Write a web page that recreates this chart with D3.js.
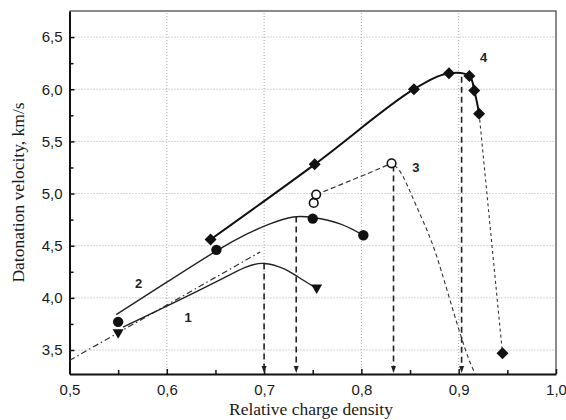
<!DOCTYPE html>
<html>
<head>
<meta charset="utf-8">
<script src="https://cdn.jsdelivr.net/npm/d3@7"></script>
<style>
  body { margin: 0; background: #fff; }
  svg { display: block; }
  .tick text { font-family: "Liberation Sans", Arial, sans-serif; font-size: 15px; fill: #1a1a1a; }
  .title { font-family: "Liberation Serif", "Times New Roman", serif; font-size: 17.5px; fill: #1a1a1a; }
  .lbl { font-family: "Liberation Sans", Arial, sans-serif; font-size: 13px; font-weight: bold; fill: #222; }
</style>
</head>
<body>
<svg id="chart" width="566" height="420"></svg>
<script>
var xTicks, yTicks, xMinor, yMinor, s1Points, s1Curve, s1Trend, s2Points, s2Curve,
    s3Points, s3Rise, s3Fall, s4Points, s4Tail, drops, curveLabels;

xTicks = [0.5, 0.6, 0.7, 0.8, 0.9, 1.0];
yTicks = [3.5, 4.0, 4.5, 5.0, 5.5, 6.0, 6.5];
xMinor = [0.55, 0.65, 0.75, 0.85, 0.95];
yMinor = [3.75, 4.25, 4.75, 5.25, 5.75, 6.25];

// curve 1 (triangles)
s1Points = [[0.55, 3.66], [0.754, 4.09]];
s1Curve = [[0.555, 3.72], [0.60, 3.92], [0.65, 4.15], [0.68, 4.29], [0.70, 4.33], [0.72, 4.28], [0.735, 4.20], [0.754, 4.09]];
s1Trend = [[0.50, 3.40], [0.696, 4.44]];

// curve 2 (filled circles)
s2Points = [[0.55, 3.77], [0.651, 4.46], [0.75, 4.76], [0.802, 4.60]];
s2Curve = [[0.548, 3.84], [0.60, 4.15], [0.651, 4.45], [0.682, 4.61], [0.706, 4.71], [0.73, 4.775], [0.75, 4.77], [0.778, 4.71], [0.802, 4.60]];

// curve 3 (open circles)
s3Points = [[0.751, 4.91], [0.7535, 4.99], [0.831, 5.29]];
s3Rise = [[0.7535, 4.99], [0.806, 5.19], [0.831, 5.29]];
s3Fall = [[0.834, 5.27], [0.843, 5.16], [0.857, 4.87], [0.874, 4.49], [0.891, 3.98], [0.907, 3.5], [0.917, 3.27]];

// curve 4 (diamonds)
s4Points = [[0.645, 4.56], [0.752, 5.28], [0.854, 6.0], [0.89, 6.153], [0.911, 6.126], [0.916, 5.987], [0.921, 5.766], [0.945, 3.468]];
s4Tail = [[0.921, 5.766], [0.945, 3.468]];

drops = [[0.70, 4.33], [0.733, 4.78], [0.833, 5.27], [0.903, 6.12]];
curveLabels = [["1", 0.622, 3.80], ["2", 0.571, 4.13], ["3", 0.856, 5.24], ["4", 0.9255, 6.29]];

var margin = {left: 69.5, right: 10, top: 11, bottom: 46};
var W = 566, H = 420;
var svg = d3.select('#chart');
var x = d3.scaleLinear().domain([0.5, 1.0]).range([margin.left, W - margin.right]);
var y = d3.scaleLinear().domain([3.27, 6.75]).range([H - margin.bottom, margin.top]);
var fmt = function(d){ return d3.format('.1f')(d).replace('.', ','); };

// grid
var grid = svg.append('g').attr('class', 'grid');
grid.selectAll('line.gx').data(xTicks.slice(1, -1)).enter().append('line')
  .attr('x1', function(d){ return x(d); }).attr('x2', function(d){ return x(d); })
  .attr('y1', y.range()[0]).attr('y2', y.range()[1])
  .attr('stroke', '#aaa').attr('stroke-width', 1).attr('stroke-dasharray', '1,2');
grid.selectAll('line.gy').data(yTicks).enter().append('line')
  .attr('y1', function(d){ return y(d); }).attr('y2', function(d){ return y(d); })
  .attr('x1', x.range()[0]).attr('x2', x.range()[1])
  .attr('stroke', '#aaa').attr('stroke-width', 1).attr('stroke-dasharray', '1,2');

// frame top / right
svg.append('path')
  .attr('d', 'M' + x.range()[0] + ',' + y.range()[1] + 'H' + x.range()[1] + 'V' + y.range()[0])
  .attr('fill', 'none').attr('stroke', '#666').attr('stroke-width', 1.5);

// axes
svg.append('g').attr('transform', 'translate(0,' + y.range()[0] + ')')
  .call(d3.axisBottom(x).tickValues(xTicks).tickFormat(fmt).tickSizeInner(-5).tickSizeOuter(0).tickPadding(10));
svg.append('g').attr('transform', 'translate(0,' + y.range()[0] + ')')
  .call(d3.axisBottom(x).tickValues(xMinor).tickFormat('').tickSizeInner(-4).tickSizeOuter(0))
  .select('.domain').remove();
svg.append('g').attr('transform', 'translate(' + x.range()[0] + ',0)')
  .call(d3.axisLeft(y).tickValues(yTicks).tickFormat(fmt).tickSizeInner(-5).tickSizeOuter(0).tickPadding(7));
svg.append('g').attr('transform', 'translate(' + x.range()[0] + ',0)')
  .call(d3.axisLeft(y).tickValues(yMinor).tickFormat('').tickSizeInner(-4).tickSizeOuter(0))
  .select('.domain').remove();
svg.selectAll('.domain').attr('stroke', '#111').attr('stroke-width', 2);
svg.selectAll('.tick line').attr('stroke', '#111').attr('stroke-width', 1.5);

svg.append('text').attr('class', 'title').attr('text-anchor', 'middle')
  .attr('x', 311).attr('y', 415).text('Relative charge density');
svg.append('text').attr('class', 'title').attr('text-anchor', 'middle')
  .attr('transform', 'translate(24,' + (y.range()[0] + y.range()[1]) / 2 + ') rotate(-90)')
  .text('Datonation velocity, km/s');

var plot = svg.append('g');
var px = function(d){ return x(d[0]); }, py = function(d){ return y(d[1]); };
var line = d3.line().x(px).y(py);
var spline = d3.line().curve(d3.curveNatural).x(px).y(py);
var smooth = d3.line().curve(d3.curveCatmullRom.alpha(0.5)).x(px).y(py);

// vertical drop arrows
plot.selectAll('line.drop').data(drops).enter().append('line')
  .attr('x1', px).attr('x2', px)
  .attr('y1', py).attr('y2', y.range()[0] - 6)
  .attr('stroke', '#222').attr('stroke-width', 1.6).attr('stroke-dasharray', '6,4');
plot.selectAll('path.head').data(drops).enter().append('path')
  .attr('d', function(d){
    var hx = x(d[0]), hy = y.range()[0];
    return 'M' + (hx - 2.5) + ',' + (hy - 8) + 'L' + (hx + 2.5) + ',' + (hy - 8) + 'L' + hx + ',' + (hy - 1) + 'Z';
  }).attr('fill', '#222');

// lines
plot.append('path').attr('d', line(s1Trend)).attr('fill', 'none').attr('stroke', '#333')
  .attr('stroke-width', 1.2).attr('stroke-dasharray', '6,3,1.5,3');
plot.append('path').attr('d', spline(s1Curve)).attr('fill', 'none').attr('stroke', '#222').attr('stroke-width', 1.4);
plot.append('path').attr('d', spline(s2Curve)).attr('fill', 'none').attr('stroke', '#222').attr('stroke-width', 1.4);
plot.append('path').attr('d', smooth(s3Rise)).attr('fill', 'none').attr('stroke', '#333')
  .attr('stroke-width', 1.2).attr('stroke-dasharray', '5,3');
plot.append('path').attr('d', spline(s3Fall)).attr('fill', 'none').attr('stroke', '#333')
  .attr('stroke-width', 1.1).attr('stroke-dasharray', '4,3');
plot.append('path').attr('d', smooth(s4Points.slice(0, 7))).attr('fill', 'none').attr('stroke', '#111').attr('stroke-width', 2);
plot.append('path').attr('d', line(s4Tail)).attr('fill', 'none').attr('stroke', '#333')
  .attr('stroke-width', 1.1).attr('stroke-dasharray', '3,3');

// markers
plot.selectAll('path.tri').data(s1Points).enter().append('path')
  .attr('transform', function(d){ return 'translate(' + x(d[0]) + ',' + y(d[1]) + ')'; })
  .attr('d', 'M-5.5,-4L5.5,-4L0,5.5Z').attr('fill', '#111');
plot.selectAll('circle.dot').data(s2Points).enter().append('circle')
  .attr('cx', px).attr('cy', py)
  .attr('r', 5.2).attr('fill', '#111');
plot.selectAll('circle.ring').data(s3Points).enter().append('circle')
  .attr('cx', px).attr('cy', py)
  .attr('r', 4.3).attr('fill', '#fff').attr('stroke', '#111').attr('stroke-width', 1.6);
plot.selectAll('path.dia').data(s4Points).enter().append('path')
  .attr('transform', function(d){ return 'translate(' + x(d[0]) + ',' + y(d[1]) + ')'; })
  .attr('d', 'M0,-6L6,0L0,6L-6,0Z').attr('fill', '#111');

plot.selectAll('text.lbl').data(curveLabels).enter().append('text')
  .attr('class', 'lbl').attr('text-anchor', 'middle').attr('dominant-baseline', 'middle')
  .attr('x', function(d){ return x(d[1]); }).attr('y', function(d){ return y(d[2]); })
  .text(function(d){ return d[0]; });
</script>
</body>
</html>
